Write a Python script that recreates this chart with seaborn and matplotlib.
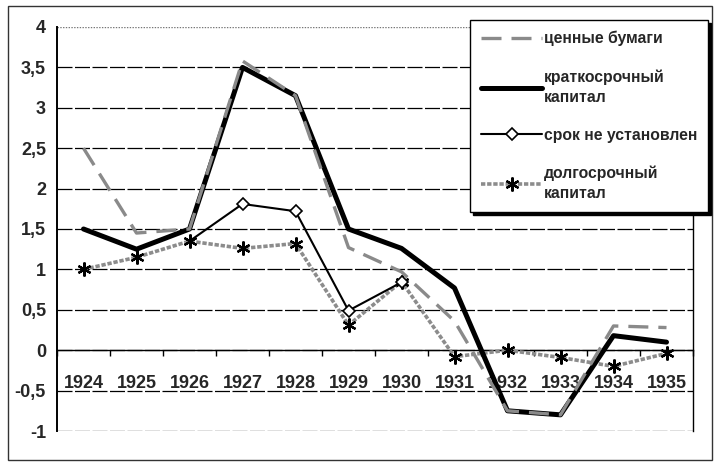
import numpy as np
import pandas as pd
import matplotlib
matplotlib.use("Agg")
import matplotlib.pyplot as plt
from matplotlib.patches import Rectangle
import seaborn as sns

sns.set_theme(style="white")
plt.rcParams['font.family'] = ['Liberation Sans', 'DejaVu Sans']
plt.rcParams['font.weight'] = 'bold'

years = list(range(1924, 1936))
securities = [2.5, 1.45, 1.5, 3.58, 3.15, 1.27, 0.97, 0.36, -0.75, -0.8, 0.3, 0.28]
short_term = [1.5, 1.25, 1.5, 3.5, 3.15, 1.5, 1.26, 0.77, -0.75, -0.8, 0.18, 0.1]
no_term = [np.nan, np.nan, 1.35, 1.81, 1.72, 0.49, 0.84, np.nan, np.nan, np.nan, np.nan, np.nan]
long_term = [1.0, 1.15, 1.35, 1.26, 1.32, 0.31, 0.85, -0.08, 0.0, -0.09, -0.2, -0.04]

labels = ['ценные бумаги', 'краткосрочный\nкапитал', 'срок не установлен', 'долгосрочный\nкапитал']
y_ticks = [-1, -0.5, 0, 0.5, 1, 1.5, 2, 2.5, 3, 3.5, 4]

df = pd.DataFrame({'year': years, 'sec': securities, 'short': short_term,
                   'none': no_term, 'long': long_term})

fig = plt.figure(figsize=(7.2, 4.69), dpi=100)
ax = fig.add_axes([57 / 720, 1 - 431 / 469, (693 - 57) / 720, (431 - 27) / 469])

# gridlines first so lines sit on top
for v in y_ticks:
    if v == 4:
        ax.axhline(v, color='#777777', lw=1, ls=(0, (1, 1)), zorder=1)
    else:
        ax.axhline(v, color='black', lw=0.9, ls=(0, (12, 2)), zorder=1)

sns.lineplot(data=df, x='year', y='long', ax=ax, color='#8c8c8c', lw=2.6,
             linestyle=(0, (1.2, 0.5)), marker=(6, 2, 0), markersize=10,
             markeredgecolor='black', markerfacecolor='black', markeredgewidth=1.6,
             legend=False, zorder=3)
# first point of this series sits under the 1926 asterisk, no diamond there
sns.lineplot(data=df.dropna(subset=['none']), x='year', y='none', ax=ax, color='black',
             lw=1.5, marker='D', markersize=6, markerfacecolor='white',
             markeredgecolor='black', markeredgewidth=1.2, markevery=[1, 2, 3, 4],
             legend=False, zorder=4)
sns.lineplot(data=df, x='year', y='short', ax=ax, color='black', lw=3.6,
             legend=False, zorder=5)
sns.lineplot(data=df, x='year', y='sec', ax=ax, color='#8a8a8a', lw=2.4,
             linestyle=(0, (6, 3)), legend=False, zorder=6)

ax.set_xlim(1923.5, 1935.5)
ax.set_ylim(-1, 4)
ax.set_xlabel('')
ax.set_ylabel('')

ax.set_yticks(y_ticks)
ax.set_yticklabels([('%g' % v).replace('.', ',') for v in y_ticks])
ax.tick_params(axis='y', length=0, pad=8, labelsize=13)

ax.spines['bottom'].set_position(('data', 0))
ax.spines['bottom'].set_color('black')
ax.spines['bottom'].set_linewidth(1)
ax.spines['top'].set_visible(False)
ax.spines['left'].set_color('black')
ax.spines['left'].set_linewidth(1.4)
ax.spines['right'].set_color('black')
ax.spines['right'].set_linewidth(1)

ax.set_xticks(np.arange(1923.5, 1936, 1))
ax.set_xticklabels([])
ax.set_xticks(years, minor=True)
ax.set_xticklabels([str(y) for y in years], minor=True)
ax.tick_params(axis='x', which='major', length=4, width=1, direction='out', color='black', bottom=True)
ax.tick_params(axis='x', which='minor', length=0, pad=18, labelsize=13)

line_long, line_none, line_short, line_sec = ax.lines[-4:]
leg = ax.legend([line_sec, line_short, line_none, line_long], labels,
                loc='upper left', bbox_to_anchor=(470 / 720, 1 - 20 / 469),
                bbox_transform=fig.transFigure, borderaxespad=0,
                frameon=True, fancybox=False, edgecolor='black', facecolor='white',
                framealpha=1, fontsize=11.3, handlelength=3.9, handletextpad=0.1,
                labelspacing=1.45, borderpad=0.7,
                shadow={'color': 'black', 'alpha': 1})
leg.get_frame().set_linewidth(1)
leg.set_zorder(10)
for t in leg.get_texts():
    t.set_fontweight('bold')
    t.set_linespacing(1.45)

fig.add_artist(Rectangle((8 / 720, 1 - 460 / 469), (712 - 8) / 720, (460 - 6) / 469,
                         transform=fig.transFigure, fill=False, edgecolor='#333333',
                         lw=1.0, zorder=0))

fig.savefig('out.png', dpi=100, facecolor='white')
